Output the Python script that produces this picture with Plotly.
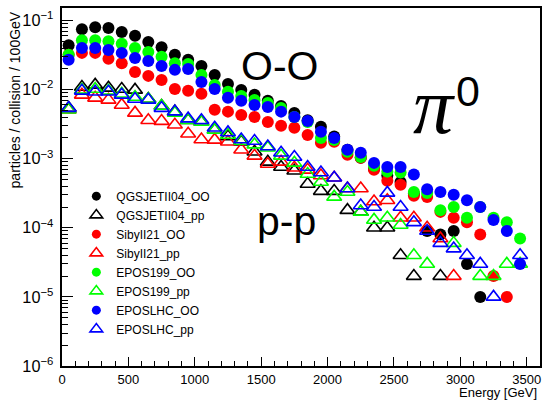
import plotly.graph_objects as go

energy = [50, 150, 250, 350, 450, 550, 650, 750, 850, 950, 1050, 1150, 1250, 1350, 1450,
          1550, 1650, 1750, 1850, 1950, 2050, 2150, 2250, 2350, 2450, 2550, 2650, 2750,
          2850, 2950, 3050, 3150, 3250, 3350, 3450]

qgsjet_OO = [0.044, 0.075, 0.080, 0.078, 0.068, 0.060, 0.049, 0.041, 0.032, 0.027, 0.022, 0.0163,
             0.0121, 0.0099, 0.0084, 0.0069, 0.0058, 0.0046, 0.0036, 0.0029, 0.0021, 0.00135,
             0.00103, 0.00071, 0.00057, 0.00046, 0.00031, 0.00009, 0.00008, 0.00009, 0.00003,
             0.00001, None, None, None]
qgsjet_pp = [0.0054, 0.0109, 0.0117, 0.0106, 0.0102, 0.0099, 0.0073, 0.0058, 0.0048, 0.0036, 0.0034,
             0.0026, 0.0021, 0.00176, 0.00126, 0.0009, 0.00076, 0.00067, 0.00043, 0.00034, 0.00034,
             0.00018, 0.00017, 0.0001, 0.0001, 0.00004, 0.00002, None, 0.00002, None, None, None,
             None, None, None]
sibyll_OO = [0.032, 0.034, 0.034, 0.028, 0.024, 0.018, 0.0158, 0.0138, 0.0102, 0.0096, 0.0087, 0.0051,
             0.0048, 0.0043, 0.0040, 0.0034, 0.0030, 0.0028, 0.0022, 0.0017, 0.00176, 0.00114,
             0.00103, 0.00069, 0.00048, 0.00042, 0.00029, 0.00028, 0.00017, 0.00014, 0.00012,
             0.00008, 0.00002, 0.00001, None]
sibyll_pp = [0.0051, 0.0084, 0.0076, 0.0071, 0.0060, 0.0046, 0.0036, 0.0035, 0.0031, 0.0023, 0.0019,
             0.00187, 0.00176, 0.00135, 0.0011, 0.00084, 0.0009, 0.00074, 0.00069, 0.00057, 0.00053,
             0.00037, 0.00037, 0.00024, 0.00025, 0.00014, 0.00014, 0.0001, 0.00007, 0.00002, None,
             None, None, None, None]
epos199_OO = [0.032, 0.052, 0.052, 0.050, 0.046, 0.040, 0.035, 0.030, 0.024, 0.0235, 0.0163, 0.0117,
              0.0093, 0.0081, 0.0071, 0.0064, 0.0054, 0.0040, 0.0034, 0.0020, 0.00187, 0.00126,
              0.00106, 0.00079, 0.00065, 0.00063, 0.00033, 0.00032, 0.00018, 0.00020, 0.00014,
              0.00020, 0.00014, 0.00012, 0.00007]
epos199_pp = [0.0051, 0.0099, 0.0102, 0.0096, 0.0087, 0.0078, 0.0073, 0.0058, 0.0046, 0.0036, 0.0034,
              0.0026, 0.0022, 0.0018, 0.0016, 0.00144, 0.0011, 0.00087, 0.0006, 0.00046, 0.00028,
              0.00033, 0.00017, 0.00013, 0.00014, 0.00011, 0.00004, 0.00003, None, 0.00006, None,
              0.00002, 0.00002, 0.00003, 0.00003]
eposlhc_OO = [0.027, 0.040, 0.040, 0.0375, 0.034, 0.0287, 0.026, 0.022, 0.0193, 0.0199, 0.0129, 0.0102,
              0.0076, 0.0069, 0.0060, 0.0056, 0.0048, 0.0040, 0.0035, 0.00245, 0.0020, 0.00135,
              0.00122, 0.00087, 0.00076, 0.00076, 0.00059, 0.00036, 0.00033, 0.00030, 0.00025,
              0.00020, 0.00013, 0.00009, 0.00003]
eposlhc_pp = [0.0054, 0.0096, 0.0093, 0.0093, 0.0084, 0.0073, 0.0071, 0.0054, 0.0048, 0.0038, 0.0036,
              0.0028, 0.0024, 0.0019, 0.0018, 0.0015, 0.00122, 0.00106, 0.00076, 0.00063, 0.00053,
              0.00037, 0.00021, 0.0002, 0.00032, 0.0002, 0.00012, 0.00009, 0.00006, 0.00005,
              0.00004, 0.00003, 0.00001, None, 0.00004]

series = [
    ("QGSJETII04_OO", qgsjet_OO, "black", "circle"),
    ("QGSJETII04_pp", qgsjet_pp, "black", "triangle-up-open"),
    ("SibyII21_OO", sibyll_OO, "#ff0000", "circle"),
    ("SibyII21_pp", sibyll_pp, "#ff0000", "triangle-up-open"),
    ("EPOS199_OO", epos199_OO, "#00ff00", "circle"),
    ("EPOS199_pp", epos199_pp, "#00ff00", "triangle-up-open"),
    ("EPOSLHC_OO", eposlhc_OO, "#0000ff", "circle"),
    ("EPOSLHC_pp", eposlhc_pp, "#0000ff", "triangle-up-open"),
]

FONT = "Liberation Sans, Arial, Helvetica, sans-serif"

fig = go.Figure()
for name, vals, col, sym in series:
    is_open = sym.endswith("open")
    # data marks
    fig.add_trace(go.Scatter(
        x=energy, y=vals, name=name, mode="markers", showlegend=False,
        legendgroup=name,
        marker=dict(symbol=sym, size=13 if is_open else 12, color=col,
                    line=dict(width=1.6 if is_open else 0, color=col)),
    ))
    # legend-only entry with smaller symbol, as in the reference
    fig.add_trace(go.Scatter(
        x=[None], y=[None], name=name, mode="markers", showlegend=True,
        legendgroup=name,
        marker=dict(symbol=sym, size=11 if is_open else 9, color=col,
                    line=dict(width=1.6 if is_open else 0, color=col)),
    ))

fig.update_layout(
    width=545, height=404,
    margin=dict(l=62, r=3, t=8, b=38),
    paper_bgcolor="white", plot_bgcolor="white",
    font=dict(family=FONT, size=13, color="black"),
    showlegend=True,
    legend=dict(x=0.03, y=0.515, xanchor="left", yanchor="top",
                bgcolor="rgba(0,0,0,0)", font=dict(size=12, family=FONT),
                tracegroupgap=0, itemwidth=30),
    xaxis=dict(range=[0, 3600], showgrid=False, zeroline=False,
               showline=True, linecolor="black", linewidth=2, mirror=True,
               tickvals=[0, 500, 1000, 1500, 2000, 2500, 3000, 3500],
               ticks="inside", ticklen=9, tickwidth=1, tickcolor="black",
               minor=dict(ticks="inside", ticklen=5, dtick=100, tickcolor="black", showgrid=False),
               tickfont=dict(size=13)),
    yaxis=dict(type="log", range=[-6, -0.819], showgrid=False, zeroline=False,
               showline=True, linecolor="black", linewidth=2, mirror=True,
               dtick=1, exponentformat="power", showexponent="all",
               ticks="inside", ticklen=11, tickwidth=1, tickcolor="black",
               minor=dict(ticks="inside", ticklen=6, dtick="D1", tickcolor="black", showgrid=False),
               tickfont=dict(size=13), ticklabelstandoff=4),
    annotations=[
        dict(text="particles / collision / 100GeV", xref="paper", yref="paper",
             x=-0.098, y=0.995, xanchor="center", yanchor="top", textangle=-90,
             showarrow=False, font=dict(size=14)),
        dict(text="Energy [GeV]", xref="paper", yref="paper", x=0.997, y=-0.075,
             xanchor="right", yanchor="middle", showarrow=False, font=dict(size=13)),
        dict(text="O-O", xref="paper", yref="paper", x=0.455, y=0.838,
             xanchor="center", yanchor="middle", showarrow=False, font=dict(size=41)),
        dict(text="p-p", xref="paper", yref="paper", x=0.47, y=0.405,
             xanchor="center", yanchor="middle", showarrow=False, font=dict(size=41)),
        dict(text="<i>π</i>", xref="paper", yref="paper", x=0.779, y=0.727,
             xanchor="center", yanchor="middle", showarrow=False,
             font=dict(size=80, family="Liberation Serif, DejaVu Serif, serif")),
        dict(text="0", xref="paper", yref="paper", x=0.85, y=0.768,
             xanchor="center", yanchor="middle", showarrow=False,
             font=dict(size=43, family=FONT)),
    ],
)

fig.write_html("out.html")
